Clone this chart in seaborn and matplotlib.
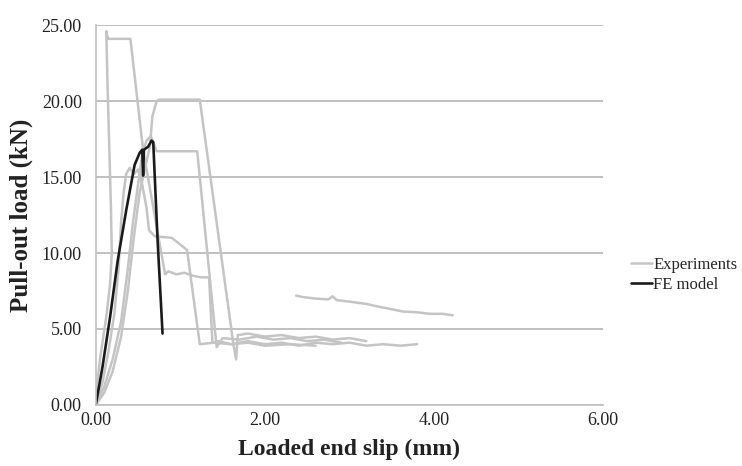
import numpy as np
import pandas as pd
import matplotlib
matplotlib.use("Agg")
import matplotlib.pyplot as plt
import seaborn as sns
from matplotlib.lines import Line2D

# ---- data ----
expA_x = [0, 0.02, 0.05, 0.09, 0.13, 0.17, 0.19, 0.18, 0.16, 0.14, 0.125, 0.13, 0.15, 0.41, 0.56, 0.82, 0.86, 0.95, 1.05, 1.15, 1.25, 1.34, 1.38,
          1.45, 1.6, 1.8, 2.0, 2.2, 2.4, 2.6, 2.8, 3.0, 3.2, 3.4, 3.6, 3.8]
expA_y = [0, 1.5, 3.0, 4.5, 6.0, 8.0, 10.0, 13.0, 17.0, 21.0, 24.6, 24.4, 24.1, 24.1, 16.8, 8.6, 8.8, 8.6, 8.7, 8.5, 8.4, 8.4, 4.1,
          4.2, 4.0, 4.2, 4.0, 4.1, 3.9, 4.1, 4.0, 4.1, 3.9, 4.0, 3.9, 4.0]

expB_x = [0, 0.1, 0.2, 0.3, 0.38, 0.45, 0.52, 0.6, 0.64, 0.67, 0.72, 0.75, 1.23, 1.63, 1.66, 1.68, 1.8, 2.0, 2.2, 2.4, 2.6, 2.8, 3.0, 3.2]
expB_y = [0, 0.8, 2.2, 4.5, 7.5, 11.0, 14.0, 16.0, 17.0, 19.0, 20.0, 20.1, 20.1, 3.9, 3.0, 4.6, 4.7, 4.5, 4.6, 4.4, 4.5, 4.3, 4.4, 4.2]

expC_x = [0, 0.1, 0.2, 0.3, 0.38, 0.44, 0.5, 0.55, 0.6, 0.65, 0.68, 0.72, 1.20, 1.43, 1.5, 1.7, 1.9, 2.1, 2.3, 2.5, 2.7, 2.9]
expC_y = [0, 1.2, 3.0, 5.5, 9.0, 12.0, 14.5, 16.5, 17.4, 17.7, 17.3, 16.7, 16.7, 3.8, 4.4, 4.3, 4.5, 4.3, 4.4, 4.2, 4.3, 4.1]

expD_x = [0, 0.08, 0.15, 0.22, 0.27, 0.3, 0.33, 0.36, 0.4, 0.45, 0.5, 0.55, 0.6, 0.63, 0.7, 0.9, 1.08, 1.23, 1.4, 1.6, 1.8, 2.0, 2.3, 2.6]
expD_y = [0, 1.5, 3.5, 6.0, 9.0, 12.0, 14.0, 15.2, 15.6, 15.2, 15.5, 14.5, 13.0, 11.5, 11.1, 11.0, 10.2, 4.0, 4.1, 4.0, 4.1, 3.9, 4.0, 3.9]

expE_x = [2.37, 2.45, 2.6, 2.75, 2.8, 2.85, 3.0, 3.2, 3.36, 3.5, 3.63, 3.8, 3.95, 4.1, 4.22]
expE_y = [7.2, 7.1, 7.0, 6.95, 7.15, 6.9, 6.8, 6.65, 6.45, 6.3, 6.15, 6.1, 6.0, 6.0, 5.9]

fe_x = [0, 0.08, 0.17, 0.26, 0.36, 0.46, 0.52, 0.55, 0.56, 0.57, 0.62, 0.66, 0.68, 0.73, 0.79]
fe_y = [0, 2.5, 5.8, 9.5, 12.8, 15.8, 16.6, 16.8, 15.1, 16.8, 17.0, 17.4, 17.3, 11.0, 4.7]

x_ticks = [0, 2, 4, 6]
y_ticks = [0, 5, 10, 15, 20, 25]

# ---- build tables ----
frames = []
for name, xs, ys in [("A", expA_x, expA_y), ("B", expB_x, expB_y), ("C", expC_x, expC_y),
                     ("D", expD_x, expD_y), ("E", expE_x, expE_y)]:
    frames.append(pd.DataFrame({"slip": xs, "load": ys, "run": name}))
exp_df = pd.concat(frames, ignore_index=True)
fe_df = pd.DataFrame({"slip": fe_x, "load": fe_y, "run": "FE"})

sns.set_theme(style="white")
plt.rcParams["font.family"] = ["Liberation Serif", "DejaVu Serif"]

fig = plt.figure(figsize=(7.42, 4.66), dpi=100)
ax = fig.add_axes([0.129, 0.131, 0.684, 0.815])

grey = "#c4c4c4"
sns.lineplot(data=exp_df, x="slip", y="load", units="run", estimator=None, sort=False,
             color=grey, linewidth=1.8, ax=ax, legend=False)
sns.lineplot(data=fe_df, x="slip", y="load", units="run", estimator=None, sort=False,
             color="#1a1a1a", linewidth=1.9, ax=ax, legend=False)

ax.set_xlim(0, 6)
ax.set_ylim(0, 25)
ax.set_xticks(x_ticks)
ax.set_yticks(y_ticks)
ax.set_xticklabels([f"{v:.2f}" for v in x_ticks], fontsize=13, color="#222222")
ax.set_yticklabels([f"{v:.2f}" for v in y_ticks], fontsize=13, color="#222222")
ax.yaxis.grid(True, color="#c0c0c0", linewidth=1.4)
ax.set_axisbelow(True)
for s in ["top", "right"]:
    ax.spines[s].set_visible(False)
for s in ["left", "bottom"]:
    ax.spines[s].set_color("#c0c0c0")
    ax.spines[s].set_linewidth(1.2)
ax.tick_params(axis="x", length=0, pad=5)
ax.tick_params(axis="y", length=0, pad=10)
ax.set_xlabel("Loaded end slip (mm)", fontsize=17, fontweight="bold", color="#222222", labelpad=7)
ax.set_ylabel("Pull-out load (kN)", fontsize=18, fontweight="bold", color="#222222", labelpad=6)

handles = [Line2D([0], [0], color=grey, lw=1.8), Line2D([0], [0], color="#1a1a1a", lw=1.9)]
fig.legend(handles, ["Experiments", "FE model"], loc="center left", bbox_to_anchor=(0.851, 0.41),
           frameon=False, fontsize=12, handlelength=1.25, handletextpad=0.05, labelspacing=0.2,
           borderpad=0, borderaxespad=0)

fig.savefig("out.png", dpi=100, facecolor="white")
